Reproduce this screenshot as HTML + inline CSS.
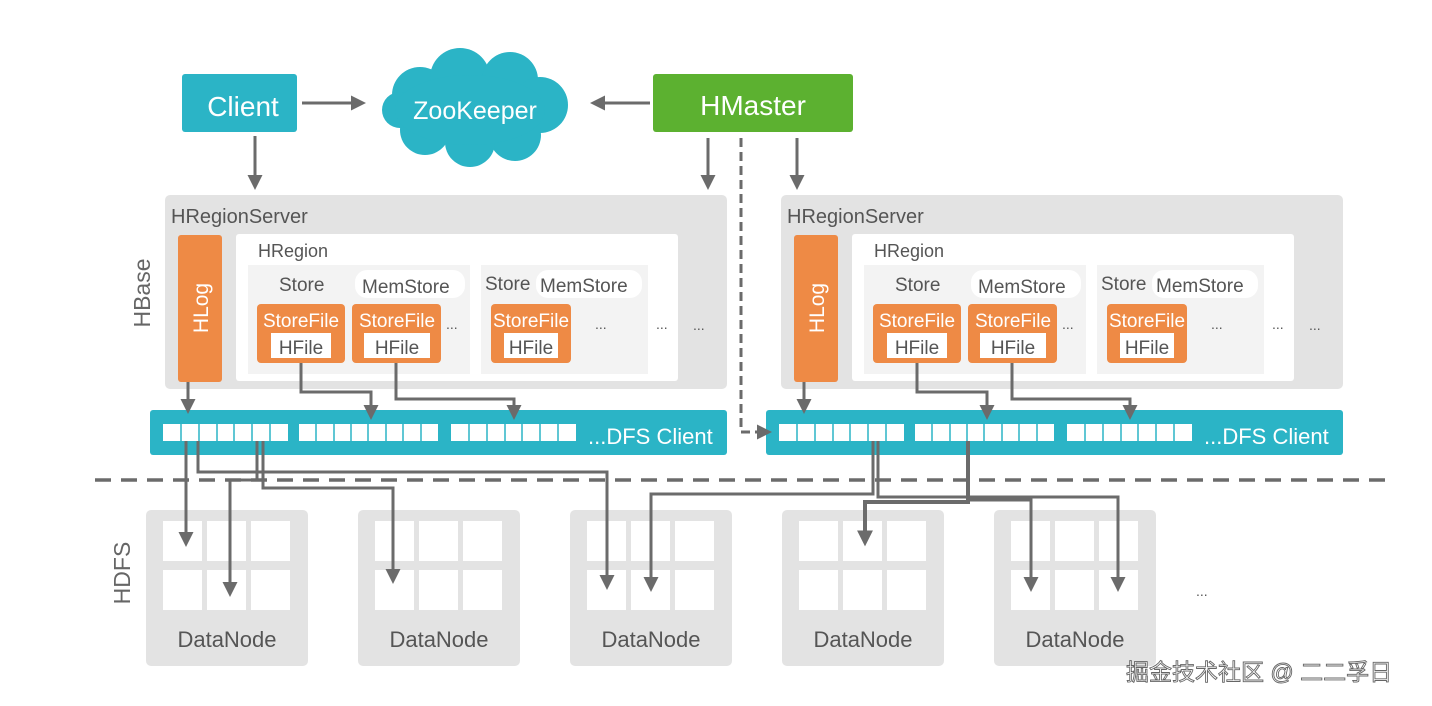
<!DOCTYPE html>
<html><head><meta charset="utf-8"><style>
html,body{margin:0;padding:0;background:#fff;}
svg{display:block;font-family:"Liberation Sans","Noto Sans CJK SC",sans-serif;}
</style></head><body>
<svg width="1432" height="706" viewBox="0 0 1432 706" xmlns="http://www.w3.org/2000/svg">
<defs>
<marker id="ah" markerWidth="5" markerHeight="5" refX="3" refY="2.5" orient="auto" markerUnits="strokeWidth"><path d="M0,0 L5,2.5 L0,5 z" fill="#6b6b6b"/></marker>
<marker id="ah2" markerWidth="4" markerHeight="4" refX="2.4" refY="2" orient="auto" markerUnits="strokeWidth"><path d="M0,0 L4,2 L0,4 z" fill="#6b6b6b"/></marker>
<g id="server">
  <rect x="165" y="195" width="562" height="194" rx="5" fill="#e3e3e3"/>
  <text x="171" y="223" font-size="20" fill="#555">HRegionServer</text>
  <rect x="178" y="235" width="44" height="147" rx="3" fill="#ee8a45"/>
  <text transform="translate(208,308) rotate(-90)" text-anchor="middle" font-size="21" fill="#fff">HLog</text>
  <rect x="236" y="234" width="442" height="147" rx="3" fill="#fff"/>
  <text x="258" y="257" font-size="18" fill="#555">HRegion</text>
  <rect x="248" y="265" width="222" height="109" fill="#f3f3f3"/>
  <rect x="481" y="265" width="167" height="109" fill="#f3f3f3"/>
  <text x="279" y="291" font-size="19" fill="#555">Store</text>
  <rect x="355" y="270" width="110" height="28" rx="12" fill="#fff"/>
  <text x="362" y="293" font-size="19" fill="#555">MemStore</text>
  <text x="485" y="290" font-size="19" fill="#555">Store</text>
  <rect x="536" y="270" width="106" height="28" rx="12" fill="#fff"/>
  <text x="540" y="292" font-size="19" fill="#555">MemStore</text>
  <rect x="257" y="304" width="88" height="59" rx="4" fill="#ee8a45"/>
  <text x="301" y="327" text-anchor="middle" font-size="19" fill="#fff">StoreFile</text>
  <rect x="271" y="333" width="60" height="25" fill="#fff"/>
  <text x="301" y="354" text-anchor="middle" font-size="19" fill="#555">HFile</text>
  <rect x="352" y="304" width="89" height="59" rx="4" fill="#ee8a45"/>
  <text x="397" y="327" text-anchor="middle" font-size="19" fill="#fff">StoreFile</text>
  <rect x="364" y="333" width="66" height="25" fill="#fff"/>
  <text x="397" y="354" text-anchor="middle" font-size="19" fill="#555">HFile</text>
  <rect x="491" y="304" width="80" height="59" rx="4" fill="#ee8a45"/>
  <text x="531" y="327" text-anchor="middle" font-size="19" fill="#fff">StoreFile</text>
  <rect x="504" y="333" width="54" height="25" fill="#fff"/>
  <text x="531" y="354" text-anchor="middle" font-size="19" fill="#555">HFile</text>
  <text x="446" y="329" font-size="14" fill="#555">...</text>
  <text x="595" y="329" font-size="14" fill="#555">...</text>
  <text x="656" y="329" font-size="14" fill="#555">...</text>
  <text x="693" y="330" font-size="14" fill="#555">...</text>
  <rect x="150" y="410" width="577" height="45" rx="3" fill="#2bb4c6"/>
  <rect x="163" y="424" width="125" height="17" fill="#fff"/>
  <rect x="299" y="424" width="139" height="17" fill="#fff"/>
  <rect x="451" y="424" width="125" height="17" fill="#fff"/>
  <g stroke="#2bb4c6" stroke-width="1.5">
    <line x1="181" y1="424" x2="181" y2="441"/><line x1="199" y1="424" x2="199" y2="441"/><line x1="217" y1="424" x2="217" y2="441"/><line x1="234" y1="424" x2="234" y2="441"/><line x1="252" y1="424" x2="252" y2="441"/><line x1="270" y1="424" x2="270" y2="441"/>
    <line x1="316" y1="424" x2="316" y2="441"/><line x1="334" y1="424" x2="334" y2="441"/><line x1="351" y1="424" x2="351" y2="441"/><line x1="368" y1="424" x2="368" y2="441"/><line x1="386" y1="424" x2="386" y2="441"/><line x1="403" y1="424" x2="403" y2="441"/><line x1="421" y1="424" x2="421" y2="441"/>
    <line x1="469" y1="424" x2="469" y2="441"/><line x1="487" y1="424" x2="487" y2="441"/><line x1="505" y1="424" x2="505" y2="441"/><line x1="522" y1="424" x2="522" y2="441"/><line x1="540" y1="424" x2="540" y2="441"/><line x1="558" y1="424" x2="558" y2="441"/>
  </g>
  <text x="588" y="444" font-size="22" fill="#fff">...DFS Client</text>
  <g stroke="#6b6b6b" stroke-width="3" fill="none">
    <line x1="188" y1="382" x2="188" y2="408" marker-end="url(#ah)"/>
    <polyline points="301,363 301,392 371,392 371,414" marker-end="url(#ah)"/>
    <polyline points="396,363 396,399 514,399 514,414" marker-end="url(#ah)"/>
  </g>
</g>
<g id="dn">
  <rect x="146" y="510" width="162" height="156" rx="5" fill="#e3e3e3"/>
  <rect x="163" y="521" width="39" height="40" fill="#fff"/><rect x="207" y="521" width="39" height="40" fill="#fff"/><rect x="251" y="521" width="39" height="40" fill="#fff"/>
  <rect x="163" y="570" width="39" height="40" fill="#fff"/><rect x="207" y="570" width="39" height="40" fill="#fff"/><rect x="251" y="570" width="39" height="40" fill="#fff"/>
  <text x="227" y="647" text-anchor="middle" font-size="22" fill="#555">DataNode</text>
</g>
</defs>

<use href="#server"/>
<use href="#server" transform="translate(616,0)"/>
<use href="#dn"/>
<use href="#dn" transform="translate(212,0)"/>
<use href="#dn" transform="translate(424,0)"/>
<use href="#dn" transform="translate(636,0)"/>
<use href="#dn" transform="translate(848,0)"/>

<text transform="translate(150,293) rotate(-90)" text-anchor="middle" font-size="23" fill="#666">HBase</text>
<text transform="translate(130,573) rotate(-90)" text-anchor="middle" font-size="23" fill="#666">HDFS</text>

<!-- top -->
<rect x="182" y="74" width="115" height="58" rx="3" fill="#2bb4c6"/>
<text x="243" y="116" text-anchor="middle" font-size="28" fill="#fff">Client</text>
<rect x="653" y="74" width="200" height="58" rx="3" fill="#5cb130"/>
<text x="753" y="115" text-anchor="middle" font-size="28" fill="#fff">HMaster</text>
<g fill="#2bb4c6">
  <circle cx="420" cy="95" r="28"/><circle cx="460" cy="78" r="30"/><circle cx="510" cy="80" r="28"/>
  <circle cx="540" cy="105" r="28"/><circle cx="515" cy="135" r="26"/><circle cx="470" cy="142" r="25"/>
  <circle cx="425" cy="130" r="25"/><circle cx="400" cy="110" r="18"/><ellipse cx="470" cy="110" rx="75" ry="35"/>
</g>
<text x="475" y="119" text-anchor="middle" font-size="25" fill="#fff">ZooKeeper</text>

<g stroke="#6b6b6b" stroke-width="3" fill="none">
  <line x1="302" y1="103" x2="360" y2="103" marker-end="url(#ah)"/>
  <line x1="650" y1="103" x2="596" y2="103" marker-end="url(#ah)"/>
  <line x1="255" y1="136" x2="255" y2="184" marker-end="url(#ah)"/>
  <line x1="708" y1="138" x2="708" y2="184" marker-end="url(#ah)"/>
  <line x1="797" y1="138" x2="797" y2="184" marker-end="url(#ah)"/>
  <polyline points="741,138 741,432 766,432" stroke-dasharray="9,5" marker-end="url(#ah)"/>
</g>

<line x1="95" y1="480" x2="1390" y2="480" stroke="#6b6b6b" stroke-width="3.5" stroke-dasharray="16,10"/>

<g stroke="#6b6b6b" stroke-width="3" fill="none">
  <line x1="186" y1="441" x2="186" y2="541" marker-end="url(#ah)"/>
  <polyline points="198,441 198,472 607,472 607,584" marker-end="url(#ah)"/>
  <polyline points="257,441 257,480 230,480 230,591" marker-end="url(#ah)"/>
  <polyline points="263,441 263,488 393,488 393,578" marker-end="url(#ah)"/>
  <polyline points="873,441 873,494 651,494 651,586" marker-end="url(#ah)"/>
  <polyline points="878,441 878,497 1118,497 1118,586" marker-end="url(#ah)"/>
  <polyline points="968,441 968,502 865,502 865,540" stroke-width="4" marker-end="url(#ah2)"/>
  <polyline points="968,500 1031,500 1031,586" marker-end="url(#ah)"/>
</g>

<text x="1196" y="596" font-size="14" fill="#555">...</text>
<text x="1126" y="680" font-size="23" fill="#fff" stroke="#666" stroke-width="0.9">掘金技术社区 @ 二二孚日</text>
</svg>
</body></html>
